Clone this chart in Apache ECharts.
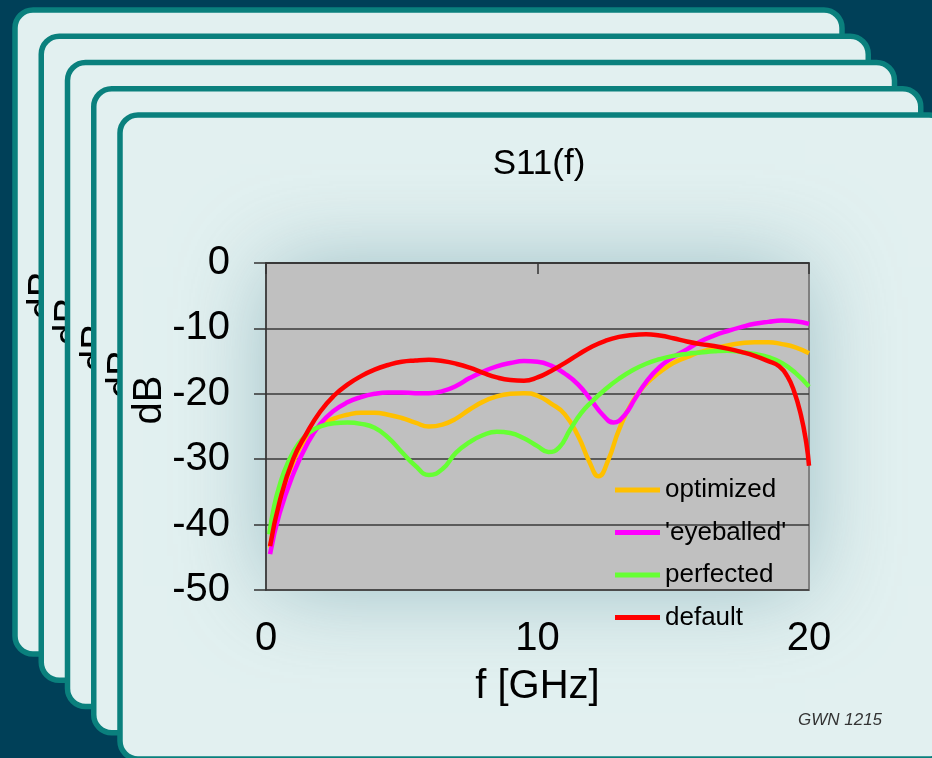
<!DOCTYPE html>
<html>
<head>
<meta charset="utf-8">
<script src="https://cdn.jsdelivr.net/npm/echarts@6/dist/echarts.min.js"></script>
<style>
html,body{margin:0;padding:0;background:#004058;}
#chart{width:932px;height:758px;}
</style>
</head>
<body>
<div id="chart"></div>
<script>
// ---- data ----
const titleText = 'S11(f)';
const xName = 'f [GHz]';
const yName = 'dB';
const noteText = 'GWN 1215';
const xTicks = [0, 10, 20];
const yTicks = [0, -10, -20, -30, -40, -50];
const seriesNames = ['optimized', "'eyeballed'", 'perfected', 'default'];
const seriesColors = ['#FFC000', '#FF00FF', '#66FF33', '#FF0000'];

const optimizedF  = [0.15, 0.5, 1, 1.5, 2, 2.5, 3, 3.5, 4, 4.5, 5, 5.5, 6, 6.5, 7, 7.5, 8, 8.5, 9, 9.5, 10, 10.5, 11, 11.5, 11.9, 12.25, 12.6, 13, 13.5, 14, 14.5, 15, 15.5, 16, 17, 18, 18.5, 19, 19.5, 20];
const optimizedDb = [-43.5, -36.5, -30.5, -26.8, -24.9, -23.8, -23.2, -22.9, -22.9, -23.2, -23.7, -24.4, -25.0, -24.7, -23.8, -22.4, -21.2, -20.4, -20.0, -19.9, -20.3, -21.5, -23.1, -26.5, -30.3, -32.6, -30.2, -25.5, -21.2, -18.5, -16.7, -15.3, -14.4, -13.6, -12.6, -12.1, -12.1, -12.4, -12.9, -13.8];

const eyeballedF  = [0.15, 0.5, 1, 1.5, 2, 2.5, 3, 3.5, 4, 4.5, 5, 5.5, 6, 6.5, 7, 7.5, 8, 8.5, 9, 9.5, 10, 10.5, 11, 11.5, 12, 12.4, 12.8, 13.2, 13.6, 14, 14.5, 15, 15.5, 16, 16.5, 17, 17.5, 18, 18.5, 19, 19.5, 20];
const eyeballedDb = [-44.5, -38.3, -32.3, -27.8, -24.6, -22.6, -21.3, -20.5, -20.0, -19.8, -19.8, -19.9, -19.9, -19.6, -18.8, -17.6, -16.6, -15.8, -15.3, -15.0, -15.1, -15.7, -16.9, -18.6, -21.1, -23.2, -24.4, -23.3, -20.7, -18.2, -15.9, -14.4, -13.2, -12.0, -11.1, -10.4, -9.8, -9.3, -9.0, -8.8, -8.9, -9.3];

const perfectedF  = [0.12, 0.3, 0.5, 0.8, 1.2, 1.6, 2, 2.5, 3, 3.5, 4, 4.5, 5, 5.5, 6, 6.5, 7, 7.5, 8, 8.5, 9, 9.5, 10, 10.4, 10.8, 11.2, 11.6, 12, 12.5, 13, 13.5, 14, 14.5, 15, 15.5, 16, 16.5, 17, 17.5, 18, 18.5, 19, 19.5, 20];
const perfectedDb = [-41.5, -37.2, -34.0, -30.6, -27.6, -25.9, -25.0, -24.5, -24.4, -24.6, -25.2, -26.7, -28.9, -31.0, -32.4, -31.5, -29.0, -27.4, -26.3, -25.8, -26.0, -26.8, -28.0, -28.9, -28.2, -25.5, -23.0, -21.2, -19.3, -17.7, -16.4, -15.4, -14.7, -14.2, -13.9, -13.7, -13.5, -13.4, -13.6, -13.9, -14.4, -15.3, -16.8, -18.9];

const defaultF  = [0.15, 0.5, 1, 1.5, 2, 2.5, 3, 3.5, 4, 4.5, 5, 5.5, 6, 6.5, 7, 7.5, 8, 8.5, 9, 9.5, 10, 10.5, 11, 11.5, 12, 12.5, 13, 13.5, 14, 14.5, 15, 15.5, 16, 16.5, 17, 17.5, 18, 18.5, 18.9, 19.2, 19.45, 19.7, 19.9, 20];
const defaultDb = [-43.3, -36.5, -30.0, -26.0, -22.7, -20.3, -18.6, -17.3, -16.3, -15.6, -15.1, -14.9, -14.8, -15.0, -15.4, -16.0, -16.8, -17.5, -17.9, -18.0, -17.5, -16.5, -15.3, -14.0, -12.8, -11.9, -11.3, -11.0, -10.9, -11.1, -11.5, -12.0, -12.4, -12.7, -13.1, -13.6, -14.2, -15.0, -15.8, -17.3, -19.6, -23.2, -27.5, -31.0];

const seriesF  = [optimizedF, eyeballedF, perfectedF, defaultF];
const seriesDb = [optimizedDb, eyeballedDb, perfectedDb, defaultDb];

// ---- chart ----
const FONT = '"Liberation Sans", Arial, sans-serif';
const chart = echarts.init(document.getElementById('chart'), null, {renderer: 'canvas'});

const G = {left: 266, top: 263, width: 543, height: 327};

const graphics = [];
const step = 26.25;
for (let i = 0; i < 5; i++) {
  const off = step * i;
  graphics.push({
    type: 'rect', z: -60 + i * 2,
    shape: {x: 15 + off, y: 10 + off, width: 827, height: 644, r: 18},
    style: {fill: '#e2f0f0', stroke: '#0a807d', lineWidth: 5.5}
  });
  const back = step * (4 - i);
  graphics.push({
    type: 'text', z: -59 + i * 2,
    x: 150 - back, y: 400 - back, rotation: Math.PI / 2,
    style: {text: yName, font: '40px ' + FONT, fill: '#000', textAlign: 'center', textVerticalAlign: 'middle'}
  });
}
// soft halo behind the plot area
graphics.push({
  type: 'rect', z: -40,
  shape: {x: G.left + 4, y: G.top + 4, width: G.width - 8, height: G.height - 8},
  style: {fill: '#9fbfc4', shadowBlur: 85, shadowColor: 'rgba(130,172,180,0.75)'}
});
graphics.push({
  type: 'text', z: 10, x: 840, y: 720,
  style: {text: noteText, font: 'italic 17px ' + FONT, fill: '#333', textAlign: 'center', textVerticalAlign: 'middle'}
});

const series = seriesNames.map((name, k) => ({
  name: name,
  type: 'line',
  xAxisIndex: 0,
  smooth: 0.5,
  showSymbol: false,
  symbol: 'none',
  lineStyle: {color: seriesColors[k], width: 4.5},
  itemStyle: {color: seriesColors[k]},
  data: seriesF[k].map((f, j) => [f, seriesDb[k][j]])
}));

chart.setOption({
  animation: false,
  backgroundColor: '#004058',
  title: {
    text: titleText, left: 534, top: 142, textAlign: 'center',
    textStyle: {fontFamily: FONT, fontSize: 35, fontWeight: 'normal', color: '#000'}
  },
  graphic: graphics,
  legend: {
    orient: 'vertical', left: 610, top: 472,
    itemWidth: 45, itemHeight: 5, itemGap: 16.5, icon: 'rect',
    textStyle: {fontFamily: FONT, fontSize: 26, lineHeight: 26, color: '#000'},
    data: seriesNames
  },
  grid: {
    left: G.left, top: G.top, width: G.width, height: G.height,
    show: true, backgroundColor: '#c0c0c0', borderColor: '#808080', borderWidth: 2
  },
  xAxis: [{
    type: 'value', min: 0, max: 20, interval: 10, position: 'bottom',
    axisLine: {show: false}, axisTick: {show: false}, splitLine: {show: false},
    axisLabel: {fontFamily: FONT, fontSize: 40, color: '#000', margin: 29,
      formatter: v => xTicks.indexOf(v) >= 0 ? String(v) : ''},
    name: xName, nameLocation: 'middle', nameGap: 77,
    nameTextStyle: {fontFamily: FONT, fontSize: 40, color: '#000'}
  }, {
    type: 'value', min: 0, max: 20, interval: 10, position: 'top',
    axisLine: {show: true, lineStyle: {color: '#333', width: 1.5}},
    axisTick: {show: true, inside: true, length: 11, lineStyle: {color: '#333', width: 1.5}},
    axisLabel: {show: false}, splitLine: {show: false}
  }],
  yAxis: {
    type: 'value', min: -50, max: 0, interval: 10,
    axisLine: {show: true, lineStyle: {color: '#333', width: 1.5}},
    axisTick: {show: true, inside: false, length: 12, lineStyle: {color: '#333', width: 1.5}},
    axisLabel: {fontFamily: FONT, fontSize: 40, color: '#000', margin: 36,
      formatter: v => yTicks.indexOf(v) >= 0 ? String(v) : ''},
    splitLine: {show: true, lineStyle: {color: '#3a3a3a', width: 1.5}}
  },
  series: series
});
</script>
</body>
</html>
